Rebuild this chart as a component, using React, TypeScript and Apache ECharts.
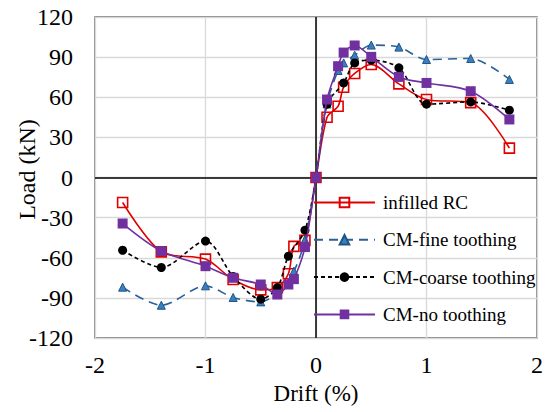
import React, { useEffect, useRef } from "react";
import * as echarts from "echarts";

const FONT = "Liberation Serif";

const xTicks = [-2, -1, 0, 1, 2];
const yTicks = [-120, -90, -60, -30, 0, 30, 60, 90, 120];

const seriesNames = ["infilled RC", "CM-fine toothing", "CM-coarse toothing", "CM-no toothing"];

const infilledX = [-1.75, -1.4, -1, -0.75, -0.5, -0.35, -0.25, -0.2, -0.1, 0, 0.1, 0.2, 0.25, 0.35, 0.5, 0.75, 1, 1.4, 1.75];
const infilledY = [-18.7, -55.6, -61, -76.3, -84, -82.3, -72, -51.5, -47, 0, 45, 53.3, 67.5, 77.8, 84.5, 70, 58.3, 56, 22];

const fineX = [-1.75, -1.4, -1, -0.75, -0.5, -0.35, -0.2, -0.1, 0, 0.1, 0.2, 0.25, 0.35, 0.5, 0.75, 1, 1.4, 1.75];
const fineY = [-82, -95.5, -81, -89.7, -93, -86, -70, -46.5, 0, 55, 80, 85.7, 91.4, 99, 97.5, 88.2, 89, 73.3];

const coarseX = [-1.75, -1.4, -1, -0.75, -0.5, -0.35, -0.25, -0.1, 0, 0.1, 0.25, 0.35, 0.5, 0.75, 1, 1.4, 1.75];
const coarseY = [-54.4, -67.3, -47.5, -74, -91, -82.3, -58.8, -39.4, 0, 54.8, 70.7, 85.7, 87.7, 82, 54.8, 56.5, 50.3];

const noX = [-1.75, -1.4, -1, -0.75, -0.5, -0.35, -0.25, -0.2, -0.1, 0, 0.1, 0.2, 0.25, 0.35, 0.5, 0.75, 1, 1.4, 1.75];
const noY = [-34.4, -55, -66.3, -75, -80, -87.5, -80, -76, -52, 0, 58.3, 83.2, 93.4, 98.7, 90.2, 75.2, 70.7, 64.5, 43.4];

const pair = (xs: number[], ys: number[]) => xs.map((x, i) => [x, ys[i]]);

export default function App() {
  const ref = useRef<HTMLDivElement>(null);
  useEffect(() => {
    if (!ref.current) return;
    const chart = echarts.init(ref.current, undefined, { renderer: "svg" });
    const smooth = 0.3;
    chart.setOption({
      animation: false,
      backgroundColor: "#fff",
      textStyle: { fontFamily: FONT },
      grid: {
        left: 95,
        right: 9,
        top: 17,
        bottom: 74,
        outerBoundsMode: "none",
        containLabel: false,
        show: true,
        borderColor: "#595959",
        borderWidth: 1.3,
        backgroundColor: "transparent",
      },
      legend: {
        orient: "vertical",
        left: 313,
        top: 193,
        padding: 0,
        itemWidth: 61,
        itemHeight: 12,
        itemGap: 18.3,
        data: seriesNames,
        textStyle: { fontFamily: FONT, fontSize: 19, color: "#000", padding: [0, 0, 0, 3] },
      },
      xAxis: {
        type: "value",
        min: -2,
        max: 2,
        interval: 1,
        name: "Drift (%)",
        nameLocation: "middle",
        nameGap: 44,
        nameMoveOverlap: false,
        nameTextStyle: { fontFamily: FONT, fontSize: 23, color: "#000" },
        axisLine: { show: false, onZero: false },
        axisTick: { show: false },
        axisLabel: {
          fontFamily: FONT,
          fontSize: 24,
          color: "#000",
          margin: 15,
          formatter: (v: number) => (xTicks.includes(v) ? String(v) : ""),
        },
        splitLine: { show: true, lineStyle: { color: "#d9d9d9", width: 1.3 } },
      },
      yAxis: {
        type: "value",
        min: -120,
        max: 120,
        interval: 30,
        name: "Load (kN)",
        nameLocation: "middle",
        nameGap: 56,
        nameMoveOverlap: false,
        nameTextStyle: { fontFamily: FONT, fontSize: 24, color: "#000", padding: [0, 0, 0, 16] },
        axisLine: { show: false, onZero: false },
        axisTick: { show: false },
        axisLabel: {
          fontFamily: FONT,
          fontSize: 24,
          color: "#000",
          margin: 22,
          formatter: (v: number) => (yTicks.includes(v) ? String(v) : ""),
        },
        splitLine: { show: true, lineStyle: { color: "#d9d9d9", width: 1.3 } },
      },
      series: [
        {
          name: seriesNames[0],
          type: "line",
          smooth,
          data: pair(infilledX, infilledY),
          symbol: "rect",
          symbolSize: 10,
          lineStyle: { color: "#e00000", width: 1.6 },
          itemStyle: { color: "rgba(255,255,255,0)", borderColor: "#e00000", borderWidth: 1.6 },
          markLine: {
            silent: true,
            symbol: "none",
            label: { show: false },
            lineStyle: { color: "#000", width: 1.5, type: "solid" },
            data: [{ xAxis: 0 }, { yAxis: 0 }],
            z: 1,
          },
          z: 2,
        },
        {
          name: seriesNames[1],
          type: "line",
          smooth,
          data: pair(fineX, fineY),
          symbol: "triangle",
          symbolSize: 8,
          lineStyle: { color: "#2a6298", width: 1.6, type: [9, 6] },
          itemStyle: { color: "#3a80c0", borderColor: "#1f5585", borderWidth: 1 },
          z: 3,
        },
        {
          name: seriesNames[2],
          type: "line",
          smooth,
          data: pair(coarseX, coarseY),
          symbol: "circle",
          symbolSize: 9,
          lineStyle: { color: "#000", width: 1.6, type: [4, 3] },
          itemStyle: { color: "#000" },
          z: 4,
        },
        {
          name: seriesNames[3],
          type: "line",
          smooth,
          data: pair(noX, noY),
          symbol: "rect",
          symbolSize: 10,
          lineStyle: { color: "#7030a0", width: 1.6 },
          itemStyle: { color: "#7030a0" },
          z: 5,
        },
      ],
    });
    return () => chart.dispose();
  }, []);
  return <div ref={ref} style={{ width: 546, height: 412, position: "absolute", left: 0, top: 0 }} />;
}
